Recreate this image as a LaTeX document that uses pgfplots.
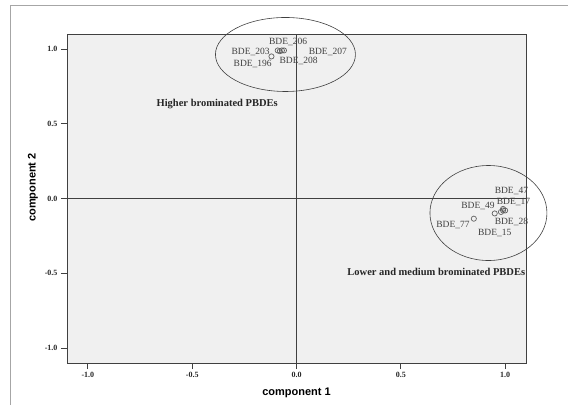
\documentclass[border=0pt]{standalone}
\usepackage{fontspec}
\setmainfont{Liberation Serif}
\newfontfamily\arialf{Liberation Sans}
\usepackage{pgfplots}
\pgfplotsset{compat=1.18}
\definecolor{bgc}{HTML}{F0F0F0}
\definecolor{linec}{HTML}{404040}
\definecolor{ptc}{HTML}{606060}
\begin{document}
\begin{tikzpicture}
\useasboundingbox (0,0) rectangle (568pt,405pt);
\draw[gray!70, line width=0.8pt] (10pt,0) -- (10pt,400pt) -- (568pt,400pt);
\begin{axis}[
  at={(67pt,42pt)}, anchor=south west,
  scale only axis, width=459pt, height=329pt,
  xmin=-1.1, xmax=1.1, ymin=-1.1, ymax=1.1,
  clip=false,
  axis background/.style={fill=bgc},
  axis line style={linec, line width=0.8pt},
  xtick={-1,-0.5,0,0.5,1}, ytick={-1,-0.5,0,0.5,1},
  xticklabels={-1.0,-0.5,0.0,0.5,1.0},
  yticklabels={-1.0,-0.5,0.0,0.5,1.0},
  tick align=outside, xtick pos=bottom, ytick pos=left,
  major tick length=6pt,
  tick style={linec, line width=0.8pt},
  tick label style={font=\fontsize{8}{9}\selectfont\bfseries, text=black!85},
  xlabel={component 1}, ylabel={component 2},
  every axis x label/.style={at={(axis description cs:0.5,0)}, anchor=center, yshift=-30pt, font=\arialf\fontsize{11}{12}\selectfont\bfseries},
  every axis y label/.style={at={(axis description cs:0,0.5)}, xshift=-34pt, yshift=11pt, rotate=90, anchor=center, font=\arialf\fontsize{11}{12}\selectfont\bfseries},
]
% reference lines
\draw[linec, line width=1pt] (axis cs:0,-1.1) -- (axis cs:0,1.1);
\draw[linec, line width=1pt] (axis cs:-1.1,0) -- (axis cs:1.1,0);
% points
\addplot[only marks, mark=o, mark size=2.6pt, mark options={ptc, line width=0.7pt}] coordinates {
 (-0.07,0.99) (-0.09,0.99) (-0.06,0.99) (-0.08,0.985) (-0.12,0.95)
 (0.99,-0.07) (1.00,-0.08) (0.98,-0.09) (0.99,-0.08) (0.95,-0.10) (0.85,-0.135)
};
% ellipses
\draw[linec, line width=0.6pt] (axis cs:-0.053,0.963) ellipse [x radius=70pt, y radius=37pt];
\draw[linec, line width=0.6pt] (axis cs:0.92,-0.097) ellipse [x radius=58.5pt, y radius=47.5pt];
% point labels
\begin{scope}[every node/.style={font=\fontsize{9.5}{10}\selectfont, text=black!75, inner sep=0pt}]
\node at (axis cs:-0.04,1.05) {BDE\_206};
\node at (axis cs:-0.22,0.98) {BDE\_203};
\node at (axis cs:0.15,0.98) {BDE\_207};
\node at (axis cs:0.01,0.92) {BDE\_208};
\node at (axis cs:-0.21,0.90) {BDE\_196};
\node at (axis cs:1.03,0.05) {BDE\_47};
\node at (axis cs:1.04,-0.02) {BDE\_17};
\node at (axis cs:0.87,-0.05) {BDE\_49};
\node at (axis cs:1.03,-0.16) {BDE\_28};
\node at (axis cs:0.75,-0.18) {BDE\_77};
\node at (axis cs:0.95,-0.23) {BDE\_15};
\end{scope}
\node[font=\fontsize{10.5}{12}\selectfont\bfseries, text=black!85] at (axis cs:-0.38,0.63) {Higher brominated PBDEs};
\node[font=\fontsize{10.5}{12}\selectfont\bfseries, text=black!85] at (axis cs:0.67,-0.49) {Lower and medium brominated PBDEs};
\end{axis}
\end{tikzpicture}
\end{document}
